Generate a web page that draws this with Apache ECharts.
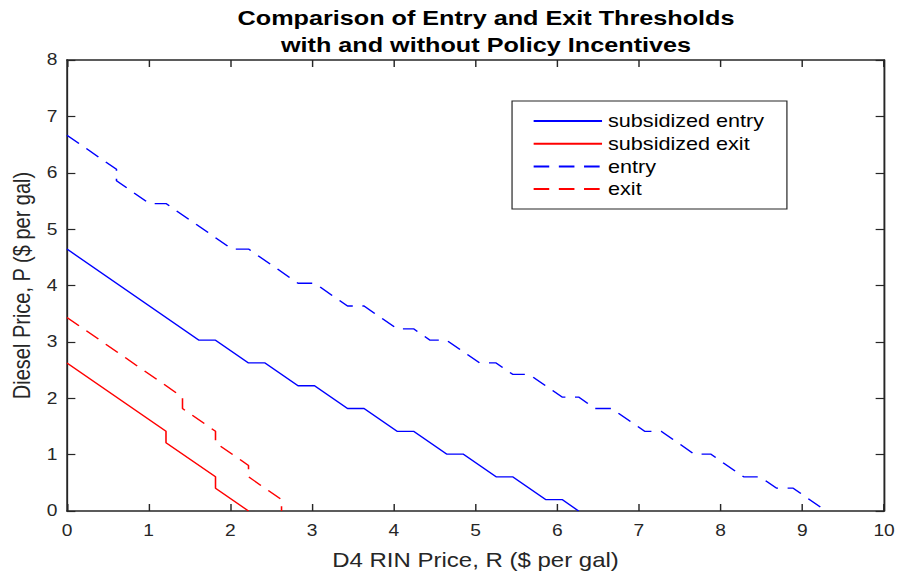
<!DOCTYPE html>
<html>
<head>
<meta charset="utf-8">
<script src="https://cdn.jsdelivr.net/npm/echarts@6/dist/echarts.min.js"></script>
<style>
  html, body { margin: 0; padding: 0; background: #fff; overflow: hidden; }
  #wrap { width: 902px; height: 579px; overflow: hidden; }
  #chart { width: 752px; height: 579px; transform: scaleX(1.2); transform-origin: 0 0; }
</style>
</head>
<body>
<div id="wrap"><div id="chart"></div></div>
<script>
// ---- data ----
const titleLines = ['Comparison of Entry and Exit Thresholds', 'with and without Policy Incentives'];
const xName = 'D4 RIN Price, R ($ per gal)';
const yName = 'Diesel Price, P ($ per gal)';
const seriesNames = ['subsidized entry', 'subsidized exit', 'entry', 'exit'];
const xTicks = [0, 1, 2, 3, 4, 5, 6, 7, 8, 9, 10];
const yTicks = [0, 1, 2, 3, 4, 5, 6, 7, 8];

const subEntryR = [0, 1.616, 1.818, 2.222, 2.424, 2.828, 3.030, 3.434, 3.636, 4.040, 4.242, 4.646, 4.848, 5.252, 5.454, 5.858, 6.060, 6.262];
const subEntryP = [4.646, 3.030, 3.030, 2.626, 2.626, 2.222, 2.222, 1.818, 1.818, 1.414, 1.414, 1.010, 1.010, 0.606, 0.606, 0.202, 0.202, 0];

const subExitR = [0, 1.212, 1.212, 1.818, 1.818, 2.222];
const subExitP = [2.626, 1.414, 1.212, 0.606, 0.404, 0];

const entryR = [0, 0.606, 0.606, 1.010, 1.212, 2.020, 2.222, 2.828, 3.030, 3.434, 3.636, 4.040, 4.242, 4.444, 4.646, 5.050, 5.252, 5.454, 5.656, 6.060, 6.262, 6.464, 6.666, 7.070, 7.272, 7.676, 7.878, 8.282, 8.484, 8.686, 8.888, 9.292];
const entryP = [6.666, 6.060, 5.858, 5.454, 5.454, 4.646, 4.646, 4.040, 4.040, 3.636, 3.636, 3.232, 3.232, 3.030, 3.030, 2.626, 2.626, 2.424, 2.424, 2.020, 2.020, 1.818, 1.818, 1.414, 1.414, 1.010, 1.010, 0.606, 0.606, 0.404, 0.404, 0];

const exitR = [0, 1.414, 1.414, 1.818, 1.818, 2.222, 2.222, 2.626, 2.626];
const exitP = [3.434, 2.020, 1.818, 1.414, 1.212, 0.808, 0.606, 0.202, 0];

// ---- build ----
const pairs = (xs, ys) => xs.map((x, i) => [x, ys[i]]);
const axisColor = '#262626';
const font = '"Liberation Sans", Arial, Helvetica, sans-serif';

const chart = echarts.init(document.getElementById('chart'), null, { renderer: 'svg' });

const baseAxis = {
  axisLine: { show: true, onZero: false, lineStyle: { color: axisColor, width: 1.6 } },
  axisTick: { show: true, inside: true, length: 7, lineStyle: { color: axisColor, width: 1.2 } },
  splitLine: { show: false }
};

chart.setOption({
  animation: false,
  backgroundColor: '#fff',
  title: {
    text: titleLines.join('\n'),
    left: 400,
    top: -1,
    textAlign: 'center',
    textStyle: { fontFamily: font, fontSize: 21, fontWeight: 'bold', color: '#000', lineHeight: 27 }
  },
  grid: { left: 55.8, right: 15.3, top: 60, bottom: 68, outerBoundsMode: 'none', containLabel: false },
  legend: {
    orient: 'vertical',
    left: 426.7,
    top: 101,
    data: seriesNames,
    icon: 'inherit',
    itemWidth: 57,
    itemHeight: 14,
    itemGap: 4.7,
    padding: [11, 19, 11, 17],
    borderColor: '#262626',
    borderWidth: 1,
    backgroundColor: '#fff',
    itemStyle: { opacity: 0 },
    textStyle: { fontFamily: font, fontSize: 18, color: '#000', lineHeight: 18 }
  },
  xAxis: [
    Object.assign({}, baseAxis, {
      type: 'value', min: xTicks[0], max: xTicks[xTicks.length - 1], interval: 1, position: 'bottom',
      name: xName, nameLocation: 'middle', nameGap: 39,
      nameTextStyle: { fontFamily: font, fontSize: 20, color: axisColor },
      axisLabel: { show: true, margin: 12, fontFamily: font, fontSize: 16, color: axisColor }
    }),
    Object.assign({}, baseAxis, {
      type: 'value', min: xTicks[0], max: xTicks[xTicks.length - 1], interval: 1, position: 'top',
      axisLabel: { show: false }
    })
  ],
  yAxis: [
    Object.assign({}, baseAxis, {
      type: 'value', min: yTicks[0], max: yTicks[yTicks.length - 1], interval: 1, position: 'left',
      name: yName, nameLocation: 'middle', nameGap: 27, nameRotate: 90,
      nameTextStyle: { fontFamily: font, fontSize: 20, color: axisColor },
      axisLabel: { show: true, margin: 8, fontFamily: font, fontSize: 16, color: axisColor }
    }),
    Object.assign({}, baseAxis, {
      type: 'value', min: yTicks[0], max: yTicks[yTicks.length - 1], interval: 1, position: 'right',
      axisLabel: { show: false }
    })
  ],
  series: [
    { name: seriesNames[0], type: 'line', data: pairs(subEntryR, subEntryP), symbol: 'none', color: '#0000ff',
      lineStyle: { color: '#0000ff', width: 1.3, type: 'solid' } },
    { name: seriesNames[1], type: 'line', data: pairs(subExitR, subExitP), symbol: 'none', color: '#ff0000',
      lineStyle: { color: '#ff0000', width: 1.3, type: 'solid' } },
    { name: seriesNames[2], type: 'line', data: pairs(entryR, entryP), symbol: 'none', color: '#0000ff',
      lineStyle: { color: '#0000ff', width: 1.3, type: [13, 8] } },
    { name: seriesNames[3], type: 'line', data: pairs(exitR, exitP), symbol: 'none', color: '#ff0000',
      lineStyle: { color: '#ff0000', width: 1.3, type: [13, 8] } }
  ]
});
</script>
</body>
</html>
